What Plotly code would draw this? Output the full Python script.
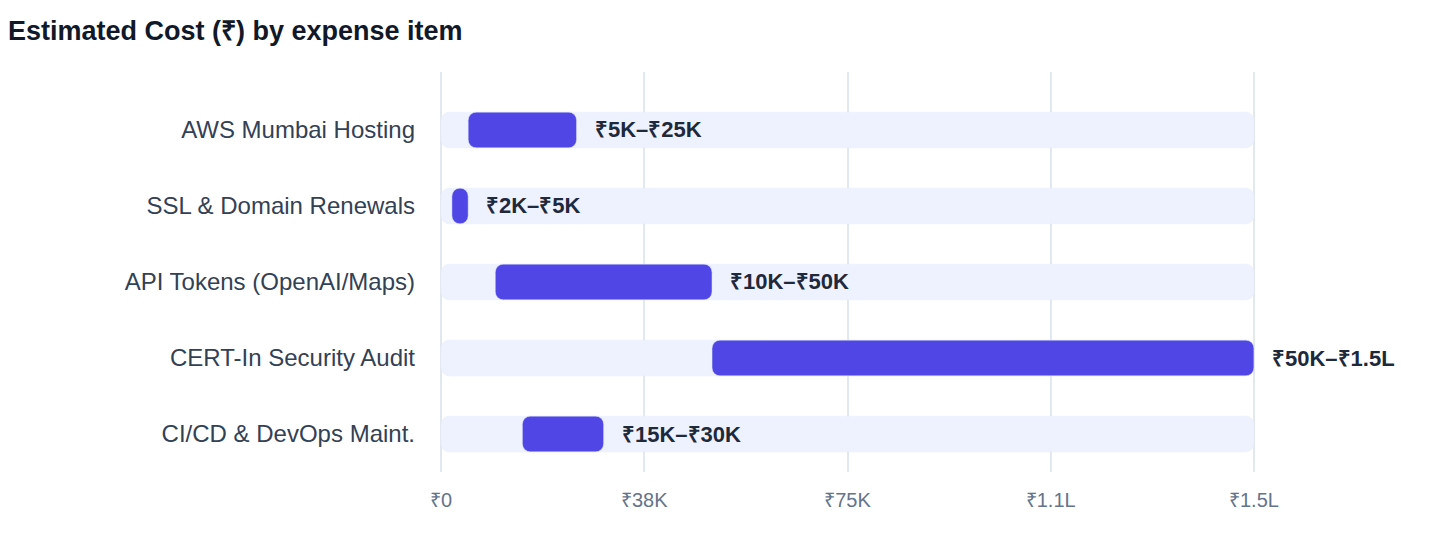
import plotly.graph_objects as go

# expense items and estimated cost range (in rupees)
items = ["AWS Mumbai Hosting", "SSL & Domain Renewals", "API Tokens (OpenAI/Maps)",
         "CERT-In Security Audit", "CI/CD & DevOps Maint."]
low = [5000, 2000, 10000, 50000, 15000]
high = [25000, 5000, 50000, 150000, 30000]
labels = ["₹5K–₹25K", "₹2K–₹5K", "₹10K–₹50K", "₹50K–₹1.5L", "₹15K–₹30K"]
track_max = [150000] * len(items)

tick_vals = [0, 37500, 75000, 112500, 150000]
tick_text = ["₹0", "₹38K", "₹75K", "₹1.1L", "₹1.5L"]

font = "Liberation Sans, Arial, sans-serif"

fig = go.Figure()

# light background track
fig.add_trace(go.Bar(
    y=items, x=track_max, base=[0] * len(items), orientation="h",
    marker=dict(color="#eef2ff", cornerradius=8),
    hoverinfo="skip", showlegend=False,
))

# the actual cost range
fig.add_trace(go.Bar(
    y=items, x=[h - l for l, h in zip(low, high)], base=low, orientation="h",
    marker=dict(color="#4f46e5", cornerradius=8),
    showlegend=False,
))

for item, h, lab in zip(items, high, labels):
    fig.add_annotation(x=h, y=item, text=f"<b>{lab}</b>", showarrow=False,
                       xanchor="left", xshift=16,
                       font=dict(size=22, color="#1e293b", family=font))

# page body adds 8px, so margins are shifted by that
fig.update_layout(
    width=1440, height=560,
    barmode="overlay", bargap=0.53,
    plot_bgcolor="white", paper_bgcolor="white",
    margin=dict(l=432, r=193, t=64, b=96),
    font=dict(family=font),
    title=dict(text="<b>Estimated Cost (₹) by expense item</b>",
               x=0.0, xref="container", xanchor="left",
               y=1 - 23 / 560, yref="container", yanchor="middle",
               font=dict(size=27, color="#111827", family=font)),
)

# tiny padding on the range so the edge gridlines get drawn
fig.update_xaxes(range=[-200, 150200], tickvals=tick_vals, ticktext=tick_text,
                 showgrid=True, gridcolor="#e2e8f0", gridwidth=1.5,
                 zeroline=False, ticklabelstandoff=14,
                 tickfont=dict(size=20, color="#64748b", family=font))
fig.update_yaxes(categoryorder="array", categoryarray=items,
                 range=[4.5, -0.763], showgrid=False, ticklabelstandoff=24,
                 tickfont=dict(size=24, color="#334155", family=font))

fig.write_html("out.html")
